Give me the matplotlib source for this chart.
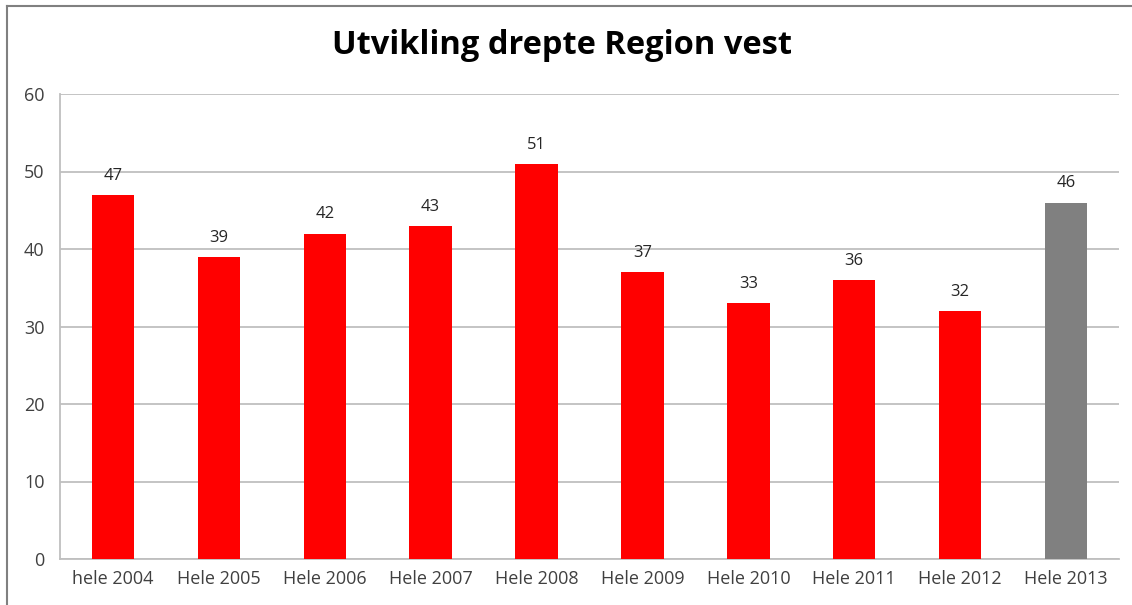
import matplotlib
matplotlib.use("Agg")
import matplotlib.pyplot as plt
from matplotlib.lines import Line2D

categories = ["hele 2004", "Hele 2005", "Hele 2006", "Hele 2007", "Hele 2008",
              "Hele 2009", "Hele 2010", "Hele 2011", "Hele 2012", "Hele 2013"]
values = [47, 39, 42, 43, 51, 37, 33, 36, 32, 46]
bar_colors = ["#ff0000"] * 9 + ["#808080"]
title = "Utvikling drepte Region vest"

plt.rcParams['font.family'] = ['Open Sans', 'DejaVu Sans']

fig = plt.figure(figsize=(11.32, 6.05), dpi=100)
ax = fig.add_axes([60/1132, 1-559/605, (1119-60)/1132, (559-94)/605])

x = list(range(len(categories)))
bars = ax.bar(x, values, width=0.4, color=bar_colors, zorder=3)
for xi, v in zip(x, values):
    ax.annotate(str(v), (xi, v), xytext=(0, 8), textcoords="offset points",
                ha="center", va="bottom", fontsize=12, color="#262626")

ax.set_xlim(-0.5, len(categories) - 0.5)
ax.set_ylim(0, 60)
ax.set_yticks(range(0, 61, 10))
ax.set_xticks(x)
ax.set_xticklabels(categories, fontsize=13, color="#404040")
ax.tick_params(axis='y', labelsize=13, labelcolor="#404040", length=0, pad=11)
ax.tick_params(axis='x', length=0, pad=8)
ax.grid(axis='y', color="#bfbfbf", linewidth=1.3, zorder=0)
for s in ["top", "right"]:
    ax.spines[s].set_visible(False)
ax.spines["left"].set_color("#bfbfbf")
ax.spines["left"].set_linewidth(1.3)
ax.spines["bottom"].set_color("#bfbfbf")
ax.spines["bottom"].set_linewidth(1.3)

fig.text(562/1132, 1-45/605, title, ha="center", va="center",
         fontsize=23.5, fontweight="bold", color="#000000")

# outer frame (top and left visible)
fig.add_artist(Line2D([7/1132, 1], [1-6/605, 1-6/605], color="#808080", linewidth=1.5,
                      transform=fig.transFigure))
fig.add_artist(Line2D([7/1132, 7/1132], [0, 1-6/605], color="#808080", linewidth=1.5,
                      transform=fig.transFigure))

fig.savefig("out.png", dpi=100)
